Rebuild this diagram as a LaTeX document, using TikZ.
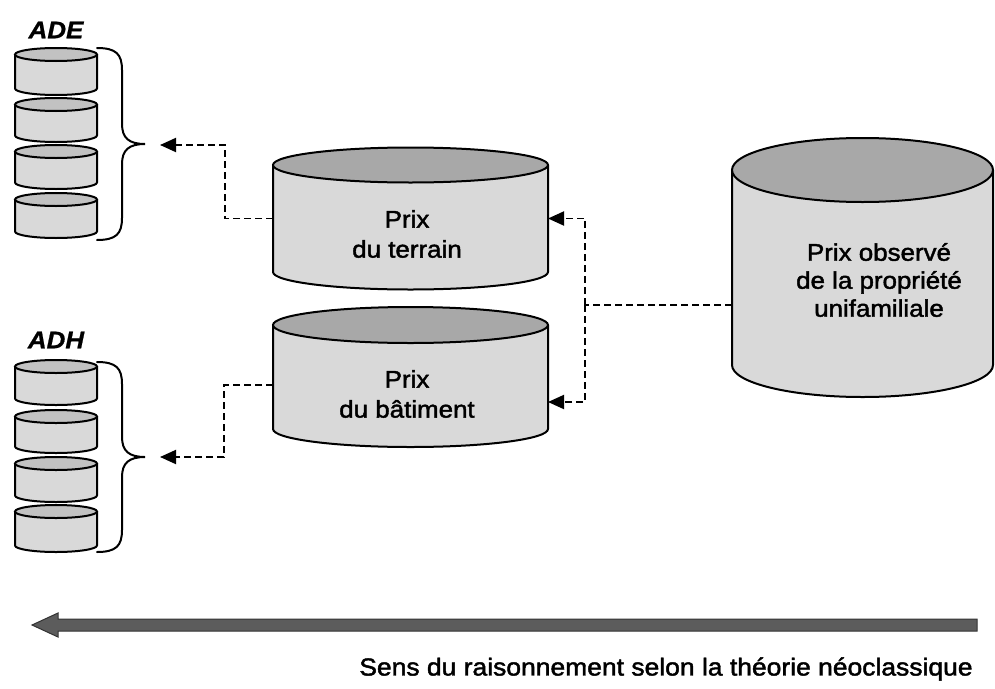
\documentclass[tikz,border=0pt]{standalone}
\usepackage{fontspec}
\setmainfont{Liberation Sans}[FakeStretch=1.08,UprightFeatures={FakeBold=1.8},BoldItalicFeatures={FakeBold=0.8}]
\usetikzlibrary{arrows.meta,calc}
\definecolor{bodygray}{HTML}{D9D9D9}
\definecolor{topgray}{HTML}{A8A8A8}
\definecolor{smalltop}{HTML}{C2C2C2}
\definecolor{arrowgray}{HTML}{5C5C5C}
\tikzset{
  outline/.style={draw=black,line width=2pt},
  dl/.style={draw=black,line width=1.9pt,dash pattern=on 7pt off 4pt},
  tip/.style={-{Triangle[length=16pt,width=14pt]}},
  cyltext/.style={align=center,font=\fontsize{24}{30}\selectfont,inner sep=0pt},
  stacklabel/.style={font=\fontsize{24}{26}\selectfont\bfseries\itshape,inner sep=0pt},
  anchorbox/.style={draw=none,inner sep=0pt,outer sep=0pt}
}
% #1 name, #2 cx, #3 top ellipse centre y, #4 bottom ellipse centre y, #5 rx, #6 ry, #7 top fill
\newcommand\drawcyl[7]{%
  \fill[bodygray] (#2-#5,#3) -- (#2-#5,#4) arc[start angle=180,end angle=360,x radius=#5pt,y radius=#6pt] -- (#2+#5,#3) -- cycle;
  \draw[outline,line join=round] (#2-#5,#3) -- (#2-#5,#4) arc[start angle=180,end angle=360,x radius=#5pt,y radius=#6pt] -- (#2+#5,#3);
  \draw[outline,fill=#7] (#2,#3) ellipse[x radius=#5pt,y radius=#6pt];
  \node[anchorbox,minimum width={2*#5pt},minimum height={(#4-#3+2*#6)*1pt}] (#1) at (#2,{(#3+#4)/2}) {};
}
% #1 top y, #2 bottom y
\newcommand\drawbrace[2]{%
  \pgfmathsetmacro\bm{(#1+#2)/2}
  \draw[outline,line cap=round] (97,#1) .. controls (116,#1) and (122,#1+6) .. (122,#1+22)
    -- (122,\bm-20) .. controls (122,\bm-6) and (129,\bm) .. (145,\bm)
    .. controls (129,\bm) and (122,\bm+6) .. (122,\bm+20)
    -- (122,#2-22) .. controls (122,#2-6) and (116,#2) .. (97,#2);
}
\begin{document}
\begin{tikzpicture}[x=1pt,y=-1pt]
\useasboundingbox (0,0) rectangle (995,688);

% ADE stack
\node[stacklabel] (adelabel) at (56,30) {ADE};
\drawcyl{ade1}{56}{54.5}{88.5}{41}{6.5}{smalltop}
\drawcyl{ade2}{56}{104.5}{135.5}{41}{6.5}{smalltop}
\drawcyl{ade3}{56}{151.5}{182.5}{41}{6.5}{smalltop}
\drawcyl{ade4}{56}{199.5}{231.5}{41}{6.5}{smalltop}
\drawbrace{48}{240}
\coordinate (adetip) at (145,144);

% ADH stack
\node[stacklabel] (adhlabel) at (56,340) {ADH};
\drawcyl{adh1}{56}{366.5}{398.5}{41}{6.5}{smalltop}
\drawcyl{adh2}{56}{416.5}{446.5}{41}{6.5}{smalltop}
\drawcyl{adh3}{56}{463.5}{495.5}{41}{6.5}{smalltop}
\drawcyl{adh4}{56}{511.5}{545.5}{41}{6.5}{smalltop}
\drawbrace{362}{552}
\coordinate (adhtip) at (145,457);

% middle cylinders
\drawcyl{terrain}{410.5}{165}{272}{137.5}{17.5}{topgray}
\node[cyltext] (terraintext) at (407,234) {Prix\\du terrain};
\drawcyl{bat}{410.5}{325}{429}{137.5}{18}{topgray}
\node[cyltext] (battext) at (407,394) {Prix\\du bâtiment};

% big cylinder
\drawcyl{obs}{862.5}{170}{365}{130.5}{32}{topgray}
\node[cyltext,font=\fontsize{24}{28}\selectfont] (obstext) at (879,280) {Prix observé\\de la propriété\\unifamiliale};

% connectors
\coordinate (adearr) at (160,145);
\coordinate (adeK) at (225,145);
\coordinate (adharr) at (160,457);
\coordinate (adhK) at (224,457);
\coordinate (J) at (585,305);

\draw[dl,tip] (terrain.west) -| (adeK) -- (adearr);
\draw[dl,tip] ($(bat.west)+(0,8)$) -| (adhK) -- (adharr);
\draw[dl] (obs.west |- J) -- (J);
\draw[dl,tip] (J) |- (terrain.east);
\draw[dl,tip] (J) |- ($(bat.east)+(0,25)$);

% reasoning arrow
\filldraw[fill=arrowgray,draw=black!80,line width=1pt,line join=miter]
  (977,619) -- (58,619) -- (58,613) -- (32,625) -- (58,637) -- (58,631) -- (977,631) -- cycle;
\node[font=\fontsize{24.5}{28}\selectfont,inner sep=0pt] (sens) at (666,669) {Sens du raisonnement selon la théorie néoclassique};
\end{tikzpicture}
\end{document}
